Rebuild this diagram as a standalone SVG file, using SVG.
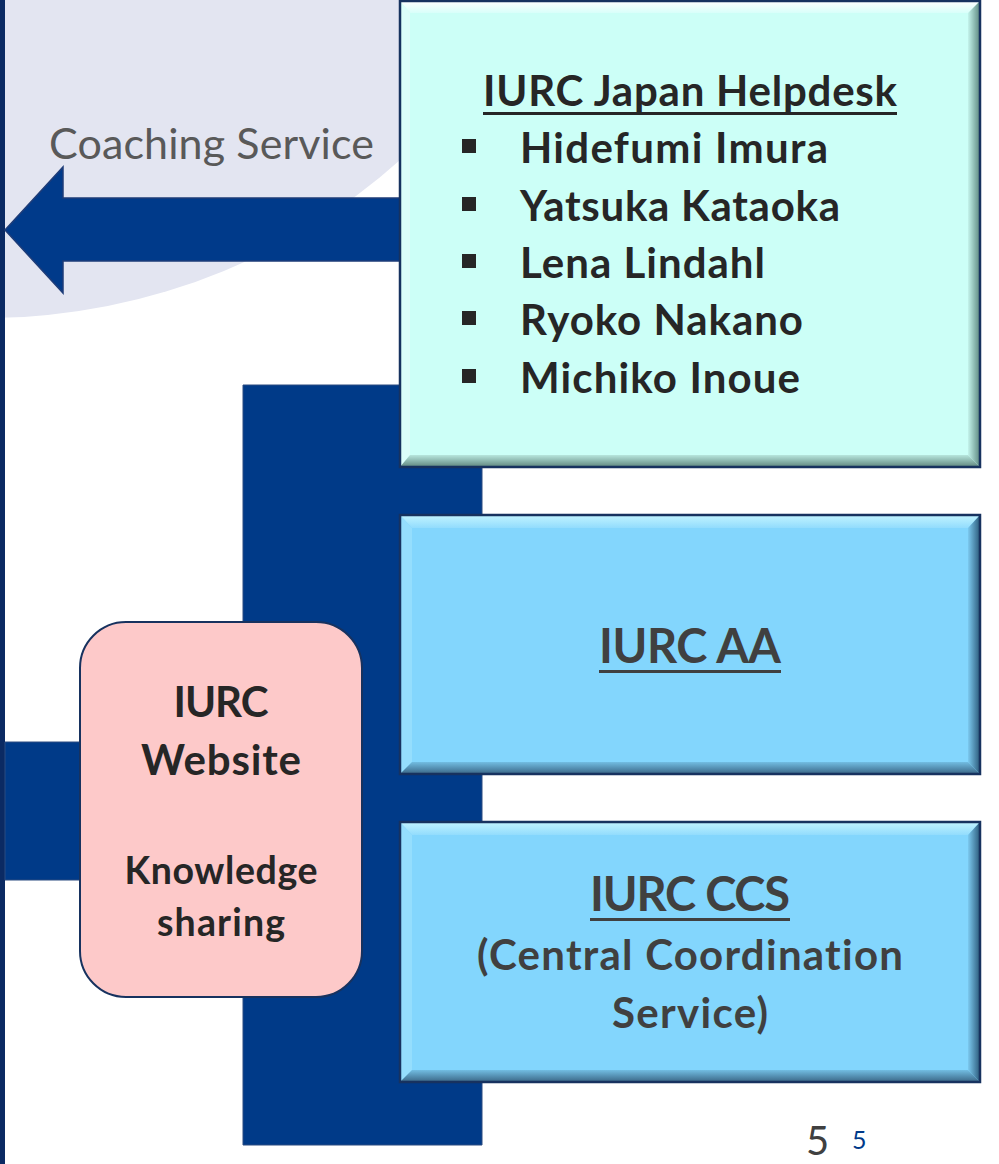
<svg xmlns="http://www.w3.org/2000/svg" width="999" height="1164" viewBox="0 0 999 1164">
<defs>
<style>
text{font-variant-ligatures:none;font-feature-settings:"liga" 0,"clig" 0}
.t{font-family:Lato,"Liberation Sans",sans-serif;font-weight:bold;fill:#262626}
.g{font-family:Lato,"Liberation Sans",sans-serif;font-weight:bold;fill:#404040}
.outline{fill:none;stroke:#17325f;stroke-width:2.5}
.ul1{fill:#262626}
.ul2{fill:#404040}
</style>
<linearGradient id="mR" x1="0" y1="0" x2="1" y2="0"><stop offset="0" stop-color="#c4f4ec"/><stop offset="1" stop-color="#5c877f"/></linearGradient>
<linearGradient id="mB" x1="0" y1="0" x2="0" y2="1"><stop offset="0" stop-color="#b7e6dd"/><stop offset="1" stop-color="#5f867e"/></linearGradient>
<linearGradient id="mT" x1="0" y1="0" x2="0" y2="1"><stop offset="0" stop-color="#ffffff"/><stop offset="1" stop-color="#d8fffa"/></linearGradient>
<linearGradient id="bR" x1="0" y1="0" x2="1" y2="0"><stop offset="0" stop-color="#7ccaf0"/><stop offset="1" stop-color="#2c5a7a"/></linearGradient>
<linearGradient id="bB" x1="0" y1="0" x2="0" y2="1"><stop offset="0" stop-color="#72bde2"/><stop offset="1" stop-color="#3a6686"/></linearGradient>
<linearGradient id="bT" x1="0" y1="0" x2="0" y2="1"><stop offset="0" stop-color="#c2f4ff"/><stop offset="1" stop-color="#92dcfd"/></linearGradient>
</defs>
<rect width="999" height="1164" fill="#ffffff"/>
<circle cx="-13" cy="-301" r="619" fill="#e3e5f1"/>
<rect x="0" y="0" width="5" height="1164" fill="#0b2a63"/>

<g id="connectors">
<path d="M5,742 H243 V385 H482 V1145 H243 V880 H5 Z" fill="#003a88" stroke="#2a4a80" stroke-width="1"/>
<polygon points="5,230 63,167 63,198 400,198 400,261 63,261 63,293" fill="#003a8a" stroke="#1e3c78" stroke-width="1.5" stroke-linejoin="miter"/>
<text x="49" y="159" font-family="Lato,'Liberation Sans',sans-serif" font-size="43" fill="#595959" textLength="325">Coaching Service</text>
</g>

<g id="helpdesk">
<rect x="400" y="1" width="580" height="466" fill="#ccfff7"/>
<polygon points="400,1 980,1 970,13 410,13" fill="url(#mT)"/>
<polygon points="400,1 410,13 410,455 400,467" fill="#dcfffa"/>
<polygon points="980,1 980,467 968,455 968,13" fill="url(#mR)"/>
<polygon points="400,467 980,467 968,455 410,455" fill="url(#mB)"/>
<rect class="outline" x="400" y="1" width="580" height="466"/>
<text class="t" x="483" y="106" font-size="42" textLength="414">IURC Japan Helpdesk</text>
<rect class="ul1" x="483" y="112" width="414" height="3"/>
<rect class="ul1" x="462" y="139" width="14" height="14"/>
<text class="t" x="520" y="163" font-size="42" textLength="308">Hidefumi Imura</text>
<rect class="ul1" x="462" y="197" width="14" height="14"/>
<text class="t" x="520" y="221" font-size="42" textLength="320">Yatsuka Kataoka</text>
<rect class="ul1" x="462" y="254" width="14" height="14"/>
<text class="t" x="520" y="278" font-size="42" textLength="245">Lena Lindahl</text>
<rect class="ul1" x="462" y="311" width="14" height="14"/>
<text class="t" x="520" y="335" font-size="42" textLength="283">Ryoko Nakano</text>
<rect class="ul1" x="462" y="369" width="14" height="14"/>
<text class="t" x="520" y="393" font-size="42" textLength="280">Michiko Inoue</text>
</g>

<g id="aa">
<rect x="400" y="515" width="580" height="259" fill="#83d6fd"/>
<polygon points="400,515 980,515 968,528 412,528" fill="url(#bT)"/>
<polygon points="400,515 412,528 412,762 400,774" fill="#95defd"/>
<polygon points="980,515 980,774 968,762 968,528" fill="url(#bR)"/>
<polygon points="400,774 980,774 968,762 412,762" fill="url(#bB)"/>
<rect class="outline" x="400" y="515" width="580" height="259"/>
<text class="g" x="690" y="663" font-size="47" text-anchor="middle" textLength="182">IURC AA</text>
<rect class="ul2" x="599" y="670" width="182" height="3"/>
</g>

<g id="ccs">
<rect x="400" y="822" width="580" height="260" fill="#83d6fd"/>
<polygon points="400,822 980,822 968,835 412,835" fill="url(#bT)"/>
<polygon points="400,822 412,835 412,1070 400,1082" fill="#95defd"/>
<polygon points="980,822 980,1082 968,1070 968,835" fill="url(#bR)"/>
<polygon points="400,1082 980,1082 968,1070 412,1070" fill="url(#bB)"/>
<rect class="outline" x="400" y="822" width="580" height="260"/>
<text class="g" x="690" y="911" font-size="47" text-anchor="middle" textLength="200">IURC CCS</text>
<rect class="ul2" x="590" y="918" width="200" height="3"/>
<text class="g" x="690" y="970" font-size="42" text-anchor="middle" textLength="426">(Central Coordination</text>
<text class="g" x="690" y="1028" font-size="42" text-anchor="middle" textLength="156">Service)</text>
</g>

<g id="website">
<rect x="80" y="622" width="282" height="375" rx="46" ry="46" fill="#fdc9c9" stroke="#17325f" stroke-width="2"/>
<text class="t" x="221" y="717" font-size="42" text-anchor="middle" textLength="95">IURC</text>
<text class="t" x="221" y="775" font-size="42" text-anchor="middle" textLength="160">Website</text>
<text class="t" x="221" y="884" font-size="37.5" text-anchor="middle" textLength="193">Knowledge</text>
<text class="t" x="221" y="936" font-size="37.5" text-anchor="middle" textLength="128">sharing</text>
</g>

<g id="page-number">
<text x="806" y="1155" font-family="Lato,'Liberation Sans',sans-serif" font-size="40" fill="#404040">5</text>
<text x="852" y="1149" font-family="Lato,'Liberation Sans',sans-serif" font-size="25" fill="#003a8a">5</text>
</g>
</svg>
